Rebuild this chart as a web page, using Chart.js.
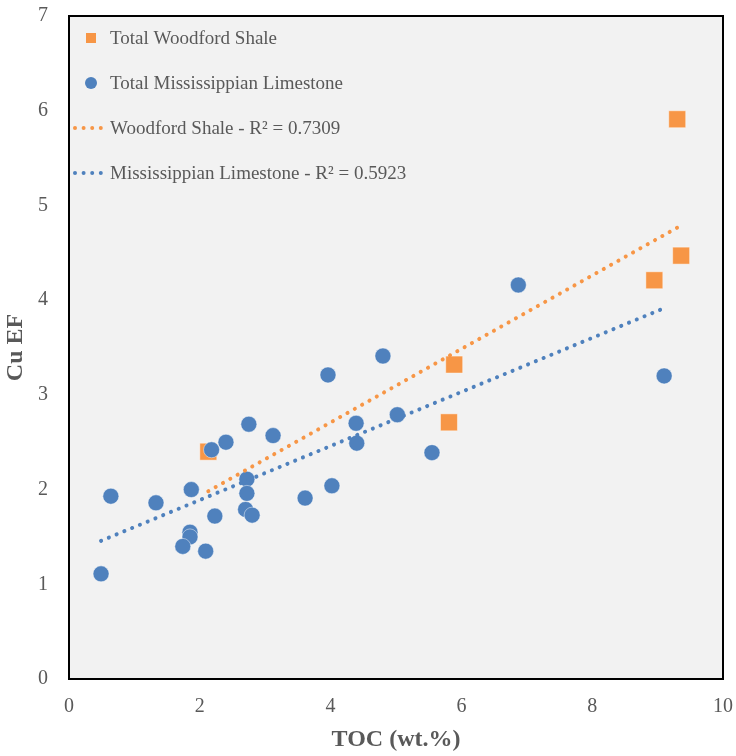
<!DOCTYPE html>
<html>
<head>
<meta charset="utf-8">
<script src="https://cdn.jsdelivr.net/npm/chart.js@4.4.1/dist/chart.umd.min.js"></script>
<style>
  html, body { margin: 0; padding: 0; background: #ffffff; }
</style>
</head>
<body>
<canvas id="cuChart" width="736" height="756"></canvas>
<script>
// Woodford Shale samples
const woodfordToc = [2.13, 5.89, 5.81, 8.95, 9.36, 9.30];
const woodfordCu = [2.40, 3.32, 2.71, 4.21, 4.47, 5.91];

// Mississippian Limestone samples
const mississippianToc = [0.49, 0.64, 1.33, 1.87, 1.85, 1.85, 1.74, 2.09, 2.23, 2.18, 2.40, 2.75,
  3.12, 2.72, 2.72, 2.70, 2.80, 3.61, 4.02, 3.96, 4.80, 4.39, 4.40, 5.02, 5.55, 6.87, 9.10];
const mississippianCu = [1.11, 1.93, 1.86, 2.00, 1.55, 1.50, 1.40, 1.35, 1.72, 2.42, 2.50, 2.69,
  2.57, 2.11, 1.96, 1.79, 1.73, 1.91, 2.04, 3.21, 3.41, 2.70, 2.49, 2.79, 2.39, 4.16, 3.20];

const xTicks = [0, 2, 4, 6, 8, 10];
const yTicks = [0, 1, 2, 3, 4, 5, 6, 7];

const woodfordR2 = '0.7309';
const mississippianR2 = '0.5923';

const ORANGE = '#f79646';
const BLUE = '#4f81bd';
const TEXT = '#595959';
const SERIF = '"Liberation Serif", "Times New Roman", serif';

function toPoints(xs, ys) {
  return xs.map((x, i) => ({x, y: ys[i]}));
}

// least squares line, spanning the range of the samples
function trendLine(xs, ys) {
  const n = xs.length;
  const mx = xs.reduce((a, b) => a + b, 0) / n;
  const my = ys.reduce((a, b) => a + b, 0) / n;
  let sxy = 0, sxx = 0;
  xs.forEach((x, i) => {
    sxy += (x - mx) * (ys[i] - my);
    sxx += (x - mx) * (x - mx);
  });
  const slope = sxy / sxx;
  const icpt = my - slope * mx;
  const lo = Math.min(...xs), hi = Math.max(...xs);
  return [{x: lo, y: icpt + slope * lo}, {x: hi, y: icpt + slope * hi}];
}

const dotted = {
  type: 'line', showLine: true, pointRadius: 0, borderWidth: 4,
  borderDash: [0.1, 8.3], borderCapStyle: 'round', fill: false, order: 0
};

// labels may hang past the plot edges, keep the plot box fixed
function noOverhang(s) {
  s.paddingLeft = 0; s.paddingRight = 0; s.paddingTop = 0; s.paddingBottom = 0;
}

// plot background + frame
const framePlugin = {
  id: 'frame',
  beforeDraw(chart) {
    const {ctx, chartArea: a} = chart;
    ctx.save();
    ctx.fillStyle = '#f2f2f2';
    ctx.fillRect(a.left, a.top, a.right - a.left, a.bottom - a.top);
    ctx.restore();
  },
  afterDraw(chart) {
    const {ctx, chartArea: a} = chart;
    ctx.save();
    ctx.strokeStyle = '#000000';
    ctx.lineWidth = 2;
    ctx.strokeRect(a.left, a.top, a.right - a.left, a.bottom - a.top);
    ctx.restore();
  }
};

// legend drawn inside the plot, top left
const legendPlugin = {
  id: 'insideLegend',
  afterDraw(chart) {
    const ctx = chart.ctx;
    const items = [
      {kind: 'square', color: ORANGE, text: 'Total Woodford Shale', y: 38},
      {kind: 'circle', color: BLUE, text: 'Total Mississippian Limestone', y: 83},
      {kind: 'dots', color: ORANGE, text: 'Woodford Shale - R\u00b2 = ' + woodfordR2, y: 128},
      {kind: 'dots', color: BLUE, text: 'Mississippian Limestone - R\u00b2 = ' + mississippianR2, y: 173}
    ];
    ctx.save();
    ctx.font = '19px ' + SERIF;
    ctx.textBaseline = 'middle';
    items.forEach((it) => {
      ctx.fillStyle = it.color;
      if (it.kind === 'square') {
        ctx.fillRect(86, it.y - 5, 10, 10);
      } else if (it.kind === 'circle') {
        ctx.beginPath();
        ctx.arc(91, it.y, 6, 0, Math.PI * 2);
        ctx.fill();
      } else {
        for (let i = 0; i < 4; i++) {
          ctx.beginPath();
          ctx.arc(75 + i * 8.6, it.y, 2, 0, Math.PI * 2);
          ctx.fill();
        }
      }
      ctx.fillStyle = TEXT;
      ctx.fillText(it.text, 110, it.y + 1);
    });
    ctx.restore();
  }
};

const woodfordLine = trendLine(woodfordToc, woodfordCu);
const mississippianLine = trendLine(mississippianToc, mississippianCu);

new Chart(document.getElementById('cuChart'), {
  type: 'scatter',
  data: {
    datasets: [
      Object.assign({label: 'Woodford Shale', data: woodfordLine, borderColor: ORANGE}, dotted),
      Object.assign({label: 'Mississippian Limestone', data: mississippianLine, borderColor: BLUE}, dotted),
      {
        label: 'Total Mississippian Limestone',
        data: toPoints(mississippianToc, mississippianCu),
        pointStyle: 'circle', pointRadius: 8, pointHoverRadius: 8,
        backgroundColor: BLUE, borderColor: 'rgba(255,255,255,0.45)', borderWidth: 1, order: 1
      },
      {
        label: 'Total Woodford Shale',
        data: toPoints(woodfordToc, woodfordCu),
        pointStyle: 'rect', pointRadius: 12, pointHoverRadius: 12,
        backgroundColor: ORANGE, borderColor: 'rgba(255,255,255,0.45)', borderWidth: 1, order: 2
      }
    ]
  },
  options: {
    responsive: false,
    animation: false,
    layout: {padding: {top: 16, right: 13, left: 0, bottom: 0}},
    plugins: {legend: {display: false}, tooltip: {enabled: false}},
    scales: {
      x: {
        type: 'linear', min: 0, max: 10,
        afterBuildTicks: (s) => { s.ticks = xTicks.map((v) => ({value: v})); },
        afterFit: (s) => { s.height = 77; noOverhang(s); },
        grid: {display: false, drawTicks: false},
        border: {display: false},
        ticks: {color: TEXT, font: {family: SERIF, size: 20}, padding: 16},
        title: {display: true, text: 'TOC (wt.%)', color: TEXT,
          font: {family: SERIF, size: 24, weight: 'bold'}, padding: {top: 0, bottom: 2}}
      },
      y: {
        type: 'linear', min: 0, max: 7,
        afterBuildTicks: (s) => { s.ticks = yTicks.map((v) => ({value: v})); },
        afterFit: (s) => { s.width = 69; noOverhang(s); },
        grid: {display: false, drawTicks: false},
        border: {display: false},
        ticks: {color: TEXT, font: {family: SERIF, size: 20}, padding: 21},
        title: {display: true, text: 'Cu EF', color: TEXT,
          font: {family: SERIF, size: 24, weight: 'bold'}, padding: {top: 1, bottom: 0}}
      }
    }
  },
  plugins: [framePlugin, legendPlugin]
});
</script>
</body>
</html>
